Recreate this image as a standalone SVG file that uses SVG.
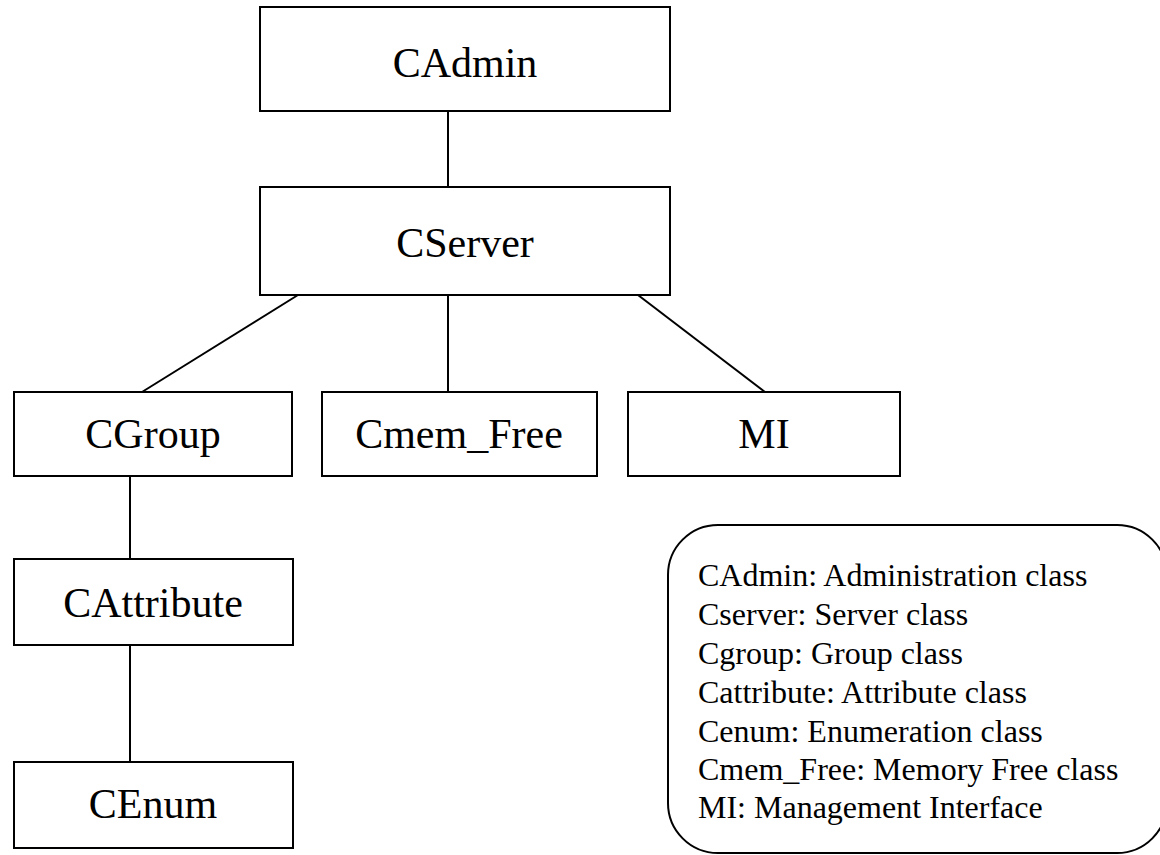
<svg xmlns="http://www.w3.org/2000/svg" width="1160" height="855" viewBox="0 0 1160 855">
<style>
.box{fill:#fff;stroke:#000;stroke-width:2}
.lbl{font-family:"Liberation Serif","Times New Roman",serif;font-size:42px;fill:#000;text-anchor:middle}
.leg{font-family:"Liberation Serif","Times New Roman",serif;font-size:32px;fill:#000}
.con line{stroke:#000;stroke-width:2}
</style>
<rect width="1160" height="855" fill="#fff"/>
<g id="connectors" class="con">
<line x1="448" y1="111" x2="448" y2="187"/>
<line x1="298" y1="295" x2="142" y2="392"/>
<line x1="448" y1="295" x2="448" y2="392"/>
<line x1="638" y1="295" x2="765" y2="392"/>
<line x1="130" y1="476" x2="130" y2="559"/>
<line x1="130" y1="645" x2="130" y2="762"/>
</g>
<g id="CAdmin"><rect class="box" x="260" y="7" width="410" height="104"/><text class="lbl" x="465" y="77">CAdmin</text></g>
<g id="CServer"><rect class="box" x="260" y="187" width="410" height="108"/><text class="lbl" x="465" y="257">CServer</text></g>
<g id="CGroup"><rect class="box" x="14" y="392" width="278" height="84"/><text class="lbl" x="153" y="448">CGroup</text></g>
<g id="Cmem_Free"><rect class="box" x="322" y="392" width="275" height="84"/><text class="lbl" x="459" y="448">Cmem_Free</text></g>
<g id="MI"><rect class="box" x="628" y="392" width="272" height="84"/><text class="lbl" x="764" y="448">MI</text></g>
<g id="CAttribute"><rect class="box" x="14" y="559" width="279" height="86"/><text class="lbl" x="153" y="617">CAttribute</text></g>
<g id="CEnum"><rect class="box" x="14" y="762" width="279" height="86"/><text class="lbl" x="153" y="818">CEnum</text></g>
<g id="legend">
<rect x="668" y="525" width="499" height="328" rx="50" ry="50" fill="#fff" stroke="#000" stroke-width="2"/>
<text class="leg" x="698" y="586">CAdmin: Administration class</text>
<text class="leg" x="698" y="625">Cserver: Server class</text>
<text class="leg" x="698" y="664">Cgroup: Group class</text>
<text class="leg" x="698" y="703">Cattribute: Attribute class</text>
<text class="leg" x="698" y="742">Cenum: Enumeration class</text>
<text class="leg" x="698" y="780">Cmem_Free: Memory Free class</text>
<text class="leg" x="698" y="818">MI: Management Interface</text>
</g>
</svg>
